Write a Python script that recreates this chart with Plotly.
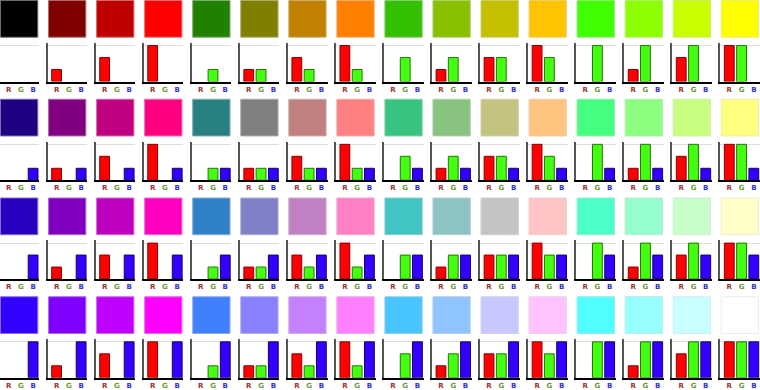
import plotly.graph_objects as go

# ---- data ----
channel_labels = ["R", "G", "B"]
red_level_by_col = [0, 1, 2, 3, 0, 1, 2, 3, 0, 1, 2, 3, 0, 1, 2, 3]
green_level_by_col = [0, 0, 0, 0, 1, 1, 1, 1, 2, 2, 2, 2, 3, 3, 3, 3]
blue_level_by_row = [0, 1, 2, 3]

swatch_row0 = ["#000000", "#800000", "#C00000", "#FF0000",
               "#208000", "#808000", "#C08000", "#FF8000",
               "#33C000", "#88C000", "#C4C000", "#FFC400",
               "#40FF00", "#8CFF00", "#C8FF00", "#FFFF00"]
swatch_row1 = ["#1F0080", "#800080", "#C00080", "#FF0080",
               "#288080", "#808080", "#C08080", "#FF8080",
               "#38C480", "#88C480", "#C4C480", "#FFC480",
               "#44FF80", "#8CFF80", "#C8FF80", "#FFFF80"]
swatch_row2 = ["#2A00C0", "#8000C0", "#C000C0", "#FF00C0",
               "#3080C8", "#8080C8", "#C080C4", "#FF80C4",
               "#40C4C4", "#8CC4C4", "#C4C4C4", "#FFC4C4",
               "#4CFFC8", "#94FFCC", "#C8FFC8", "#FFFFC8"]
swatch_row3 = ["#3300FF", "#8000FF", "#C000FF", "#FF00FF",
               "#4080FF", "#8880FF", "#C480FF", "#FF80FF",
               "#48C4FF", "#90C4FF", "#C8C8FF", "#FFC4FF",
               "#50FFFF", "#98FFFF", "#C8FFFF", "#FFFFFF"]
swatch_rows = [swatch_row0, swatch_row1, swatch_row2, swatch_row3]

# ---- style ----
bar_fill = ["#FF0000", "#44FF11", "#3300FF"]
bar_edge = ["#880000", "#227700", "#110066"]
label_colors = ["#993333", "#669933", "#3333CC"]

W, H = 760, 390
COL_PITCH = 48.05
ROW_PITCH = 100.3
SW = 37.8


def blend(hexc, other="#DADADA", a=0.5):
    c1 = [int(hexc[i:i + 2], 16) for i in (1, 3, 5)]
    c2 = [int(other[i:i + 2], 16) for i in (1, 3, 5)]
    m = [round(x * (1 - a) + y * a) for x, y in zip(c1, c2)]
    return "#%02X%02X%02X" % tuple(m)


fig = go.Figure()
shapes = []
layout_axes = {}
ticktext = ['<span style="color:%s"><b>%s</b></span>' % (c, t)
            for c, t in zip(label_colors, channel_labels)]

n = 0
for r in range(4):
    top = r * ROW_PITCH
    for c in range(16):
        n += 1
        left = c * COL_PITCH
        color = swatch_rows[r][c]
        shapes.append(dict(type="rect", xref="paper", yref="paper",
                           x0=(left + 0.5) / W, x1=(left + SW) / W,
                           y0=1 - (top + 0.5) / H, y1=1 - (top + SW) / H,
                           fillcolor=color, line=dict(color=blend(color), width=1),
                           layer="below"))
        vals = [red_level_by_col[c], green_level_by_col[c], blue_level_by_row[r]]
        edge_w = [1 if v > 0 else 0 for v in vals]
        sfx = "" if n == 1 else str(n)
        fig.add_trace(go.Bar(x=[0, 1, 2], y=vals, width=0.8,
                             marker=dict(color=bar_fill,
                                         line=dict(color=bar_edge, width=edge_w)),
                             xaxis="x" + sfx, yaxis="y" + sfx,
                             showlegend=False, hoverinfo="skip"))
        x0 = max(0.0, (left - 0.3) / W)
        x1 = min(1.0, (left + 39.2) / W)
        y_top = top + 43.6
        y_bot = top + 82.8
        layout_axes["xaxis" + sfx] = dict(
            domain=[x0, x1], range=[-0.72, 2.5], anchor="y" + sfx,
            tickvals=[0, 1, 2], ticktext=ticktext, ticks="", ticklen=0,
            tickfont=dict(size=7, family="DejaVu Sans"),
            showline=True, linecolor="#000000", linewidth=1.5,
            showgrid=False, zeroline=False, fixedrange=True)
        layout_axes["yaxis" + sfx] = dict(
            domain=[1 - y_bot / H, 1 - y_top / H], range=[0, 3.22],
            anchor="x" + sfx, tickvals=[3], showticklabels=False, ticks="",
            showgrid=True, gridcolor="#DDDDDD", gridwidth=1,
            showline=True, linecolor="#555555", linewidth=2,
            zeroline=False, fixedrange=True)

fig.update_layout(width=W, height=H, margin=dict(l=0, r=0, t=0, b=0),
                  paper_bgcolor="white", plot_bgcolor="white",
                  shapes=shapes, bargap=0.2, showlegend=False,
                  **layout_axes)

fig.write_html("out.html", config={"displayModeBar": False},
               post_script="document.body.style.margin='0';"
                           "document.body.style.padding='0';"
                           "document.body.style.overflow='hidden';")
